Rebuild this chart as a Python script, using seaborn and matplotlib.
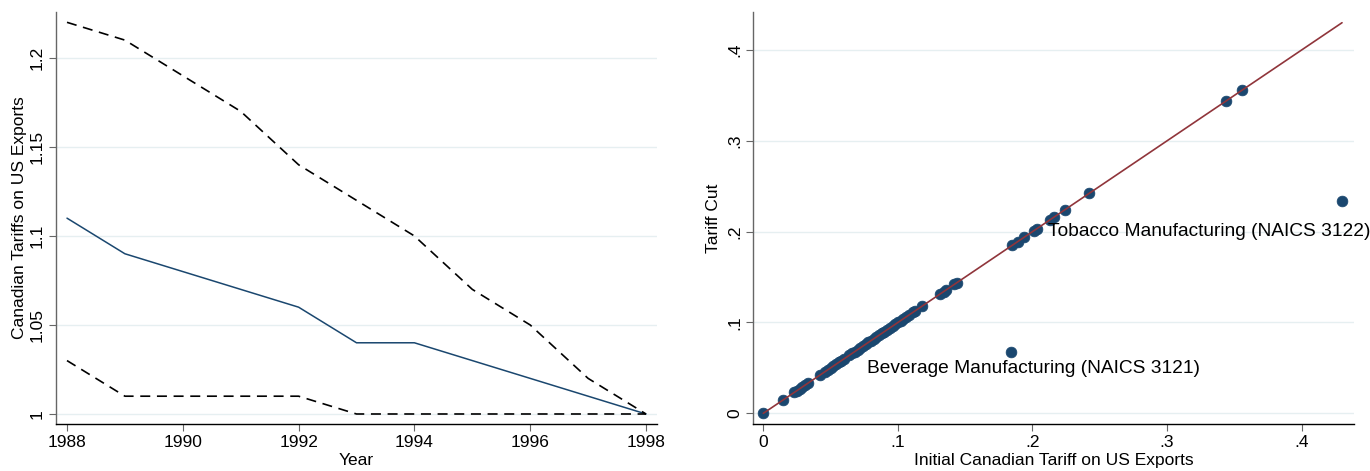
"""Canadian tariffs on US exports: year path and tariff-cut scatter."""

import matplotlib
matplotlib.use("Agg")
import matplotlib.pyplot as plt
from matplotlib.ticker import FuncFormatter
import seaborn as sns
import pandas as pd

sns.set_theme(style="white")
plt.rcParams["font.family"] = ["Liberation Sans", "DejaVu Sans"]
plt.rcParams["text.color"] = "black"
plt.rcParams["axes.labelcolor"] = "black"
plt.rcParams["xtick.color"] = "black"
plt.rcParams["ytick.color"] = "black"

NAVY = "#1a476f"
MAROON = "#90353b"
GRID = "#e6eff1"

# Left panel: tariff path by year
years = [1988, 1989, 1990, 1991, 1992, 1993, 1994, 1995, 1996, 1997, 1998]
tariff_mean = [1.11, 1.09, 1.08, 1.07, 1.06, 1.04, 1.04, 1.03, 1.02, 1.01, 1.00]
tariff_upper = [1.22, 1.21, 1.19, 1.17, 1.14, 1.12, 1.10, 1.07, 1.05, 1.02, 1.00]
tariff_lower = [1.03, 1.01, 1.01, 1.01, 1.01, 1.00, 1.00, 1.00, 1.00, 1.00, 1.00]

# Right panel: initial tariff vs tariff cut by industry
initial_tariff = [
    0.0, 0.015, 0.023, 0.025, 0.027, 0.029, 0.031, 0.033, 0.042, 0.046,
    0.048, 0.050, 0.052, 0.054, 0.056, 0.058, 0.060, 0.064, 0.066, 0.068,
    0.070, 0.072, 0.074, 0.076, 0.078, 0.080, 0.082, 0.084, 0.086, 0.088,
    0.090, 0.092, 0.094, 0.096, 0.098, 0.100, 0.102, 0.104, 0.106, 0.108,
    0.111, 0.113, 0.118, 0.131, 0.134, 0.136, 0.142, 0.144, 0.185, 0.189,
    0.194, 0.201, 0.203, 0.213, 0.216, 0.224, 0.242, 0.344, 0.356, 0.184,
    0.430,
]
tariff_cut = [
    0.0, 0.015, 0.023, 0.025, 0.027, 0.029, 0.031, 0.033, 0.042, 0.046,
    0.048, 0.050, 0.052, 0.054, 0.056, 0.058, 0.060, 0.064, 0.066, 0.068,
    0.070, 0.072, 0.074, 0.076, 0.078, 0.080, 0.082, 0.084, 0.086, 0.088,
    0.090, 0.092, 0.094, 0.096, 0.098, 0.100, 0.102, 0.104, 0.106, 0.108,
    0.111, 0.113, 0.118, 0.131, 0.134, 0.136, 0.142, 0.144, 0.185, 0.189,
    0.194, 0.201, 0.203, 0.213, 0.216, 0.224, 0.242, 0.344, 0.356, 0.067,
    0.234,
]
fit_x = [0.0, 0.43]
fit_y = [0.0, 0.43]
labels = ["Tobacco Manufacturing (NAICS 3122)", "Beverage Manufacturing (NAICS 3121)"]
label_pos = [(0.2115, 0.200), (0.077, 0.0495)]

FS = 12.5

fig = plt.figure(figsize=(13.7, 4.71), dpi=100)
ax1 = fig.add_axes([56 / 1370, 47 / 471, 601 / 1370, 412 / 471])
ax2 = fig.add_axes([753 / 1370, 47 / 471, 601 / 1370, 412 / 471])

# ---- left panel
df = pd.DataFrame({"year": years, "mean": tariff_mean,
                   "upper": tariff_upper, "lower": tariff_lower})
sns.lineplot(data=df, x="year", y="mean", ax=ax1, color=NAVY, linewidth=1.1)
for col in ["upper", "lower"]:
    sns.lineplot(data=df, x="year", y=col, ax=ax1, color="black",
                 linewidth=1.2, dashes=False, linestyle=(0, (6, 4)))
ax1.set_xlim(1987.81, 1998.19)
ax1.set_ylim(0.99438, 1.2258)
ax1.set_xticks(range(1988, 1999, 2))
ax1.set_yticks([1.0, 1.05, 1.1, 1.15, 1.2])
ax1.yaxis.set_major_formatter(FuncFormatter(lambda v, p: f"{v:g}"))
ax1.set_xlabel("Year", fontsize=FS, labelpad=2)
ax1.set_ylabel("Canadian Tariffs on US Exports", fontsize=FS, labelpad=2)

# ---- right panel
sns.lineplot(x=fit_x, y=fit_y, ax=ax2, color=MAROON, linewidth=1.2, zorder=3)
sns.scatterplot(x=initial_tariff, y=tariff_cut, ax=ax2, color=NAVY, s=60,
                edgecolor=NAVY, linewidth=0.5, zorder=2)
for text, (tx, ty) in zip(labels, label_pos):
    ax2.text(tx, ty, text, fontsize=13.8, va="center", ha="left")
ax2.set_xlim(-0.00766, 0.4389)
ax2.set_ylim(-0.01176, 0.4418)
ax2.set_xticks([0, 0.1, 0.2, 0.3, 0.4])
ax2.set_yticks([0, 0.1, 0.2, 0.3, 0.4])
fmt = FuncFormatter(lambda v, p: "0" if abs(v) < 1e-9 else f"{v:.1f}".lstrip("0"))
ax2.xaxis.set_major_formatter(fmt)
ax2.yaxis.set_major_formatter(fmt)
ax2.set_xlabel("Initial Canadian Tariff on US Exports", fontsize=FS, labelpad=2)
ax2.set_ylabel("Tariff Cut", fontsize=FS, labelpad=4)

for ax in (ax1, ax2):
    sns.despine(ax=ax)
    ax.spines["left"].set_color("#666666")
    ax.spines["bottom"].set_color("black")
    ax.spines["left"].set_linewidth(1.0)
    ax.spines["bottom"].set_linewidth(1.0)
    ax.grid(axis="y", color=GRID, linewidth=1.0)
    ax.set_axisbelow(True)
    ax.tick_params(axis="both", which="major", direction="out", length=5,
                   width=0.8, color="#666666", labelcolor="black",
                   labelsize=FS, pad=3, bottom=True, left=True)
    for lab in ax.get_yticklabels():
        lab.set_rotation(90)
        lab.set_va("center")

fig.savefig("out.png", dpi=100)
